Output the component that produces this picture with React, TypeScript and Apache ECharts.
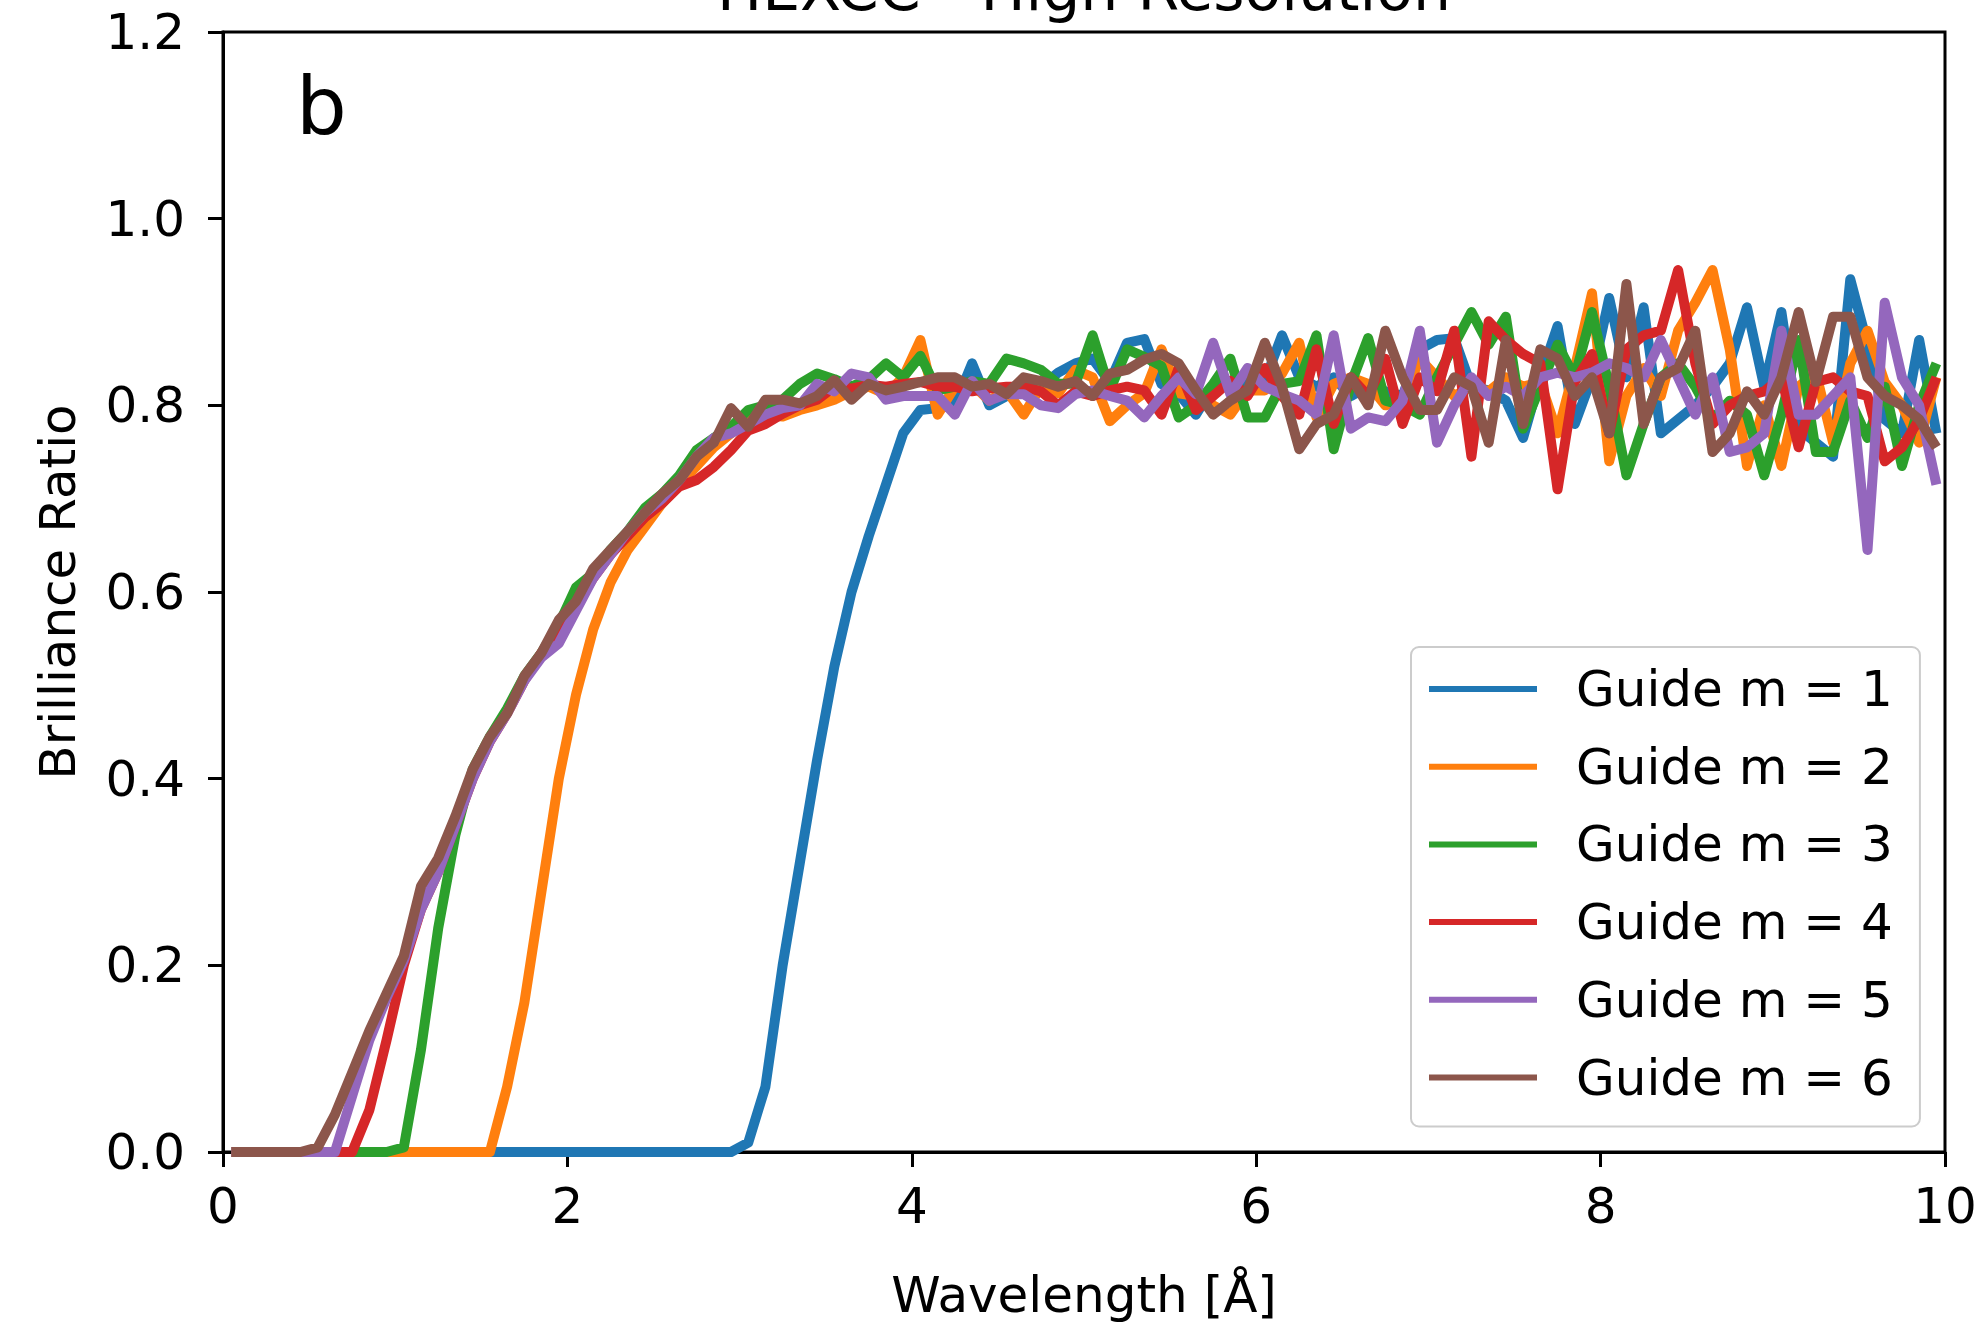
import React, { useEffect, useRef } from "react";
import * as echarts from "echarts";

const wavelengths = [
  0.05, 0.15, 0.25, 0.35, 0.45, 0.55, 0.65, 0.75, 0.85, 0.95,
  1.05, 1.15, 1.25, 1.35, 1.45, 1.55, 1.65, 1.75, 1.85, 1.95,
  2.05, 2.15, 2.25, 2.35, 2.45, 2.55, 2.65, 2.75, 2.85, 2.95,
  3.05, 3.15, 3.25, 3.35, 3.45, 3.55, 3.65, 3.75, 3.85, 3.95,
  4.05, 4.15, 4.25, 4.35, 4.45, 4.55, 4.65, 4.75, 4.85, 4.95,
  5.05, 5.15, 5.25, 5.35, 5.45, 5.55, 5.65, 5.75, 5.85, 5.95,
  6.05, 6.15, 6.25, 6.35, 6.45, 6.55, 6.65, 6.75, 6.85, 6.95,
  7.05, 7.15, 7.25, 7.35, 7.45, 7.55, 7.65, 7.75, 7.85, 7.95,
  8.05, 8.15, 8.25, 8.35, 8.45, 8.55, 8.65, 8.75, 8.85, 8.95,
  9.05, 9.15, 9.25, 9.35, 9.45, 9.55, 9.65, 9.75, 9.85, 9.95,
];

const guide1 = [
  0, 0, 0, 0, 0, 0, 0, 0, 0, 0,
  0, 0, 0, 0, 0, 0, 0, 0, 0, 0,
  0, 0, 0, 0, 0, 0, 0, 0, 0, 0,
  0.01, 0.07, 0.2, 0.31, 0.42, 0.52, 0.6, 0.66, 0.715, 0.77,
  0.795, 0.797, 0.8, 0.845, 0.8, 0.81, 0.82, 0.82, 0.835, 0.845,
  0.85, 0.825, 0.867, 0.871, 0.823, 0.812, 0.79, 0.82, 0.823, 0.826,
  0.826, 0.875, 0.83, 0.82, 0.83, 0.81, 0.82, 0.815, 0.81, 0.86,
  0.87, 0.872, 0.82, 0.816, 0.805, 0.765, 0.83, 0.885, 0.78, 0.83,
  0.915, 0.83, 0.905, 0.77, 0.785, 0.8, 0.82, 0.845, 0.905, 0.82,
  0.9, 0.775, 0.76, 0.745, 0.935, 0.865, 0.785, 0.77, 0.87, 0.77,
];

const guide2 = [
  0, 0, 0, 0, 0, 0, 0, 0, 0, 0,
  0, 0, 0, 0, 0, 0, 0.07, 0.16, 0.28, 0.4,
  0.49, 0.56, 0.61, 0.645, 0.67, 0.695, 0.715, 0.735, 0.755, 0.77,
  0.785, 0.79, 0.788, 0.795, 0.8, 0.806, 0.815, 0.82, 0.812, 0.83,
  0.87, 0.79, 0.82, 0.823, 0.805, 0.816, 0.79, 0.82, 0.813, 0.838,
  0.83, 0.783, 0.8, 0.813, 0.86, 0.813, 0.81, 0.8, 0.79, 0.816,
  0.816, 0.834, 0.867, 0.787, 0.823, 0.83, 0.823, 0.8, 0.805, 0.85,
  0.83, 0.81, 0.82, 0.815, 0.83, 0.82, 0.825, 0.77, 0.84, 0.92,
  0.74, 0.81, 0.84, 0.81, 0.88, 0.91, 0.945, 0.86, 0.735, 0.8,
  0.735, 0.82, 0.835, 0.76, 0.845, 0.88, 0.825, 0.8, 0.76, 0.83,
];

const guide3 = [
  0, 0, 0, 0, 0, 0, 0, 0, 0, 0,
  0.005, 0.11, 0.24, 0.34, 0.41, 0.445, 0.475, 0.51, 0.535, 0.565,
  0.605, 0.62, 0.645, 0.665, 0.69, 0.705, 0.725, 0.752, 0.765, 0.777,
  0.795, 0.8, 0.806, 0.823, 0.834, 0.828, 0.82, 0.828, 0.845, 0.83,
  0.853, 0.816, 0.82, 0.826, 0.823, 0.85, 0.845, 0.838, 0.823, 0.823,
  0.875, 0.816, 0.86, 0.852, 0.842, 0.787, 0.8, 0.823, 0.85, 0.787,
  0.787, 0.823, 0.826, 0.875, 0.753, 0.823, 0.872, 0.805, 0.8, 0.79,
  0.83, 0.865, 0.9, 0.865, 0.895, 0.775, 0.82, 0.865, 0.83, 0.9,
  0.82, 0.725, 0.78, 0.83, 0.845, 0.82, 0.785, 0.805, 0.79, 0.725,
  0.79, 0.87, 0.75, 0.75, 0.805, 0.765, 0.82, 0.735, 0.8, 0.845,
];

const guide4 = [
  0, 0, 0, 0, 0, 0, 0, 0, 0.045, 0.12,
  0.2, 0.26, 0.3, 0.35, 0.4, 0.44, 0.47, 0.505, 0.535, 0.56,
  0.585, 0.615, 0.64, 0.66, 0.68, 0.695, 0.713, 0.72, 0.734, 0.752,
  0.773, 0.78, 0.791, 0.8, 0.806, 0.82, 0.818, 0.822, 0.82, 0.823,
  0.825, 0.82, 0.82, 0.815, 0.818, 0.82, 0.82, 0.815, 0.8, 0.815,
  0.81, 0.816, 0.82, 0.816, 0.79, 0.84, 0.795, 0.81, 0.826, 0.81,
  0.84, 0.81, 0.79, 0.86, 0.78, 0.83, 0.81, 0.85, 0.78, 0.83,
  0.815, 0.88, 0.745, 0.89, 0.87, 0.855, 0.845, 0.71, 0.825, 0.855,
  0.77, 0.86, 0.875, 0.88, 0.945, 0.845, 0.78, 0.8, 0.81, 0.815,
  0.83, 0.755, 0.825, 0.83, 0.815, 0.81, 0.74, 0.755, 0.785, 0.83,
];

const guide5 = [
  0, 0, 0, 0, 0, 0, 0, 0.06, 0.12, 0.165,
  0.205, 0.26, 0.3, 0.35, 0.4, 0.44, 0.47, 0.505, 0.53, 0.545,
  0.58, 0.615, 0.64, 0.665, 0.685, 0.7, 0.72, 0.745, 0.765, 0.77,
  0.78, 0.79, 0.797, 0.8, 0.823, 0.815, 0.834, 0.83, 0.806, 0.81,
  0.81, 0.81, 0.79, 0.826, 0.805, 0.812, 0.812, 0.8, 0.797, 0.812,
  0.816, 0.81, 0.805, 0.787, 0.81, 0.83, 0.812, 0.867, 0.812, 0.84,
  0.82, 0.812, 0.805, 0.79, 0.875, 0.775, 0.787, 0.783, 0.805, 0.88,
  0.76, 0.8, 0.83, 0.81, 0.82, 0.81, 0.83, 0.835, 0.83, 0.835,
  0.845, 0.84, 0.83, 0.87, 0.83, 0.79, 0.83, 0.75, 0.755, 0.77,
  0.88, 0.79, 0.79, 0.81, 0.83, 0.645, 0.91, 0.83, 0.8, 0.715,
];

const guide6 = [
  0, 0, 0, 0, 0, 0.005, 0.04, 0.085, 0.13, 0.17,
  0.21, 0.285, 0.315, 0.36, 0.41, 0.445, 0.47, 0.51, 0.535, 0.57,
  0.59, 0.625, 0.645, 0.665, 0.685, 0.705, 0.72, 0.745, 0.76, 0.797,
  0.777, 0.806, 0.806, 0.802, 0.81, 0.827, 0.806, 0.823, 0.816, 0.82,
  0.825, 0.83, 0.83, 0.82, 0.823, 0.812, 0.83, 0.826, 0.82, 0.826,
  0.81, 0.834, 0.838, 0.849, 0.855, 0.845, 0.816, 0.79, 0.805, 0.816,
  0.867, 0.82, 0.753, 0.78, 0.79, 0.83, 0.8, 0.88, 0.83, 0.795,
  0.795, 0.83, 0.82, 0.76, 0.87, 0.78, 0.86, 0.85, 0.81, 0.83,
  0.77, 0.93, 0.78, 0.83, 0.84, 0.88, 0.75, 0.77, 0.815, 0.79,
  0.83, 0.9, 0.825, 0.895, 0.895, 0.83, 0.81, 0.8, 0.785, 0.755,
];

const seriesNames = [
  "Guide m = 1",
  "Guide m = 2",
  "Guide m = 3",
  "Guide m = 4",
  "Guide m = 5",
  "Guide m = 6",
];
const seriesValues = [guide1, guide2, guide3, guide4, guide5, guide6];
const colors = ["#1f77b4", "#ff7f0e", "#2ca02c", "#d62728", "#9467bd", "#8c564b"];

const xTicks = { min: 0, max: 10, interval: 2 };
const yTicks = { min: 0, max: 1.2, interval: 0.2 };

const FONT = "DejaVu Sans";
const LINE_W = 10;

export default function App() {
  const ref = useRef<HTMLDivElement>(null);

  useEffect(() => {
    if (!ref.current) return;
    const chart = echarts.init(ref.current, undefined, { renderer: "svg" });

    const series = seriesNames.map((name, i) => ({
      name,
      type: "line",
      symbol: "none",
      showSymbol: false,
      data: wavelengths.map((x, k) => [x, seriesValues[i][k]]),
      lineStyle: { width: LINE_W, color: colors[i], join: "round" },
      itemStyle: { color: colors[i] },
      emphasis: { disabled: true },
    }));

    chart.setOption({
      animation: false,
      color: colors,
      textStyle: { fontFamily: FONT, color: "#000" },
      grid: {
        left: 223,
        right: 38,
        top: 32,
        bottom: 177,
        show: true,
        borderColor: "#000",
        borderWidth: 3,
        backgroundColor: "transparent",
        outerBoundsMode: "none",
      },
      xAxis: {
        type: "value",
        min: xTicks.min,
        max: xTicks.max,
        interval: xTicks.interval,
        name: "Wavelength [Å]",
        nameLocation: "middle",
        nameGap: 118,
        nameTextStyle: { fontSize: 50, fontFamily: FONT, color: "#000" },
        splitLine: { show: false },
        axisLine: { show: true, lineStyle: { color: "#000", width: 3 } },
        axisTick: { show: true, length: 15, lineStyle: { color: "#000", width: 3 } },
        axisLabel: { fontSize: 50, fontFamily: FONT, color: "#000", margin: 29 },
      },
      yAxis: {
        type: "value",
        min: yTicks.min,
        max: yTicks.max,
        interval: yTicks.interval,
        name: "Brilliance Ratio",
        nameLocation: "middle",
        nameGap: 140,
        nameTextStyle: { fontSize: 50, fontFamily: FONT, color: "#000" },
        splitLine: { show: false },
        axisLine: { show: true, lineStyle: { color: "#000", width: 3 } },
        axisTick: { show: true, length: 15, lineStyle: { color: "#000", width: 3 } },
        axisLabel: {
          fontSize: 50,
          fontFamily: FONT,
          color: "#000",
          margin: 38,
          formatter: (v: number) => v.toFixed(1),
        },
      },
      legend: {
        orient: "vertical",
        left: 1411,
        top: 647,
        padding: [17, 27, 24, 18],
        icon: "rect",
        itemWidth: 108,
        itemHeight: 6,
        itemGap: 27.7,
        selectedMode: false,
        backgroundColor: "rgba(255,255,255,0.8)",
        borderColor: "#cccccc",
        borderWidth: 2,
        borderRadius: 8,
        data: seriesNames,
        textStyle: {
          fontSize: 50,
          fontFamily: FONT,
          color: "#000",
          padding: [0, 0, 0, 34],
        },
      },
      graphic: [
        {
          type: "text",
          left: 296,
          top: 66,
          style: { text: "b", font: `80px "${FONT}"`, fill: "#000" },
        },
        {
          type: "text",
          x: 1084,
          y: -11,
          style: {
            text: "HEXCC - High Resolution",
            font: `60px "${FONT}"`,
            fill: "#000",
            textAlign: "center",
            textVerticalAlign: "middle",
          },
        },
      ],
      series,
    });

    return () => chart.dispose();
  }, []);

  return (
    <div
      ref={ref}
      style={{ position: "fixed", left: 0, top: 0, width: 1983, height: 1329, background: "#fff" }}
    />
  );
}
